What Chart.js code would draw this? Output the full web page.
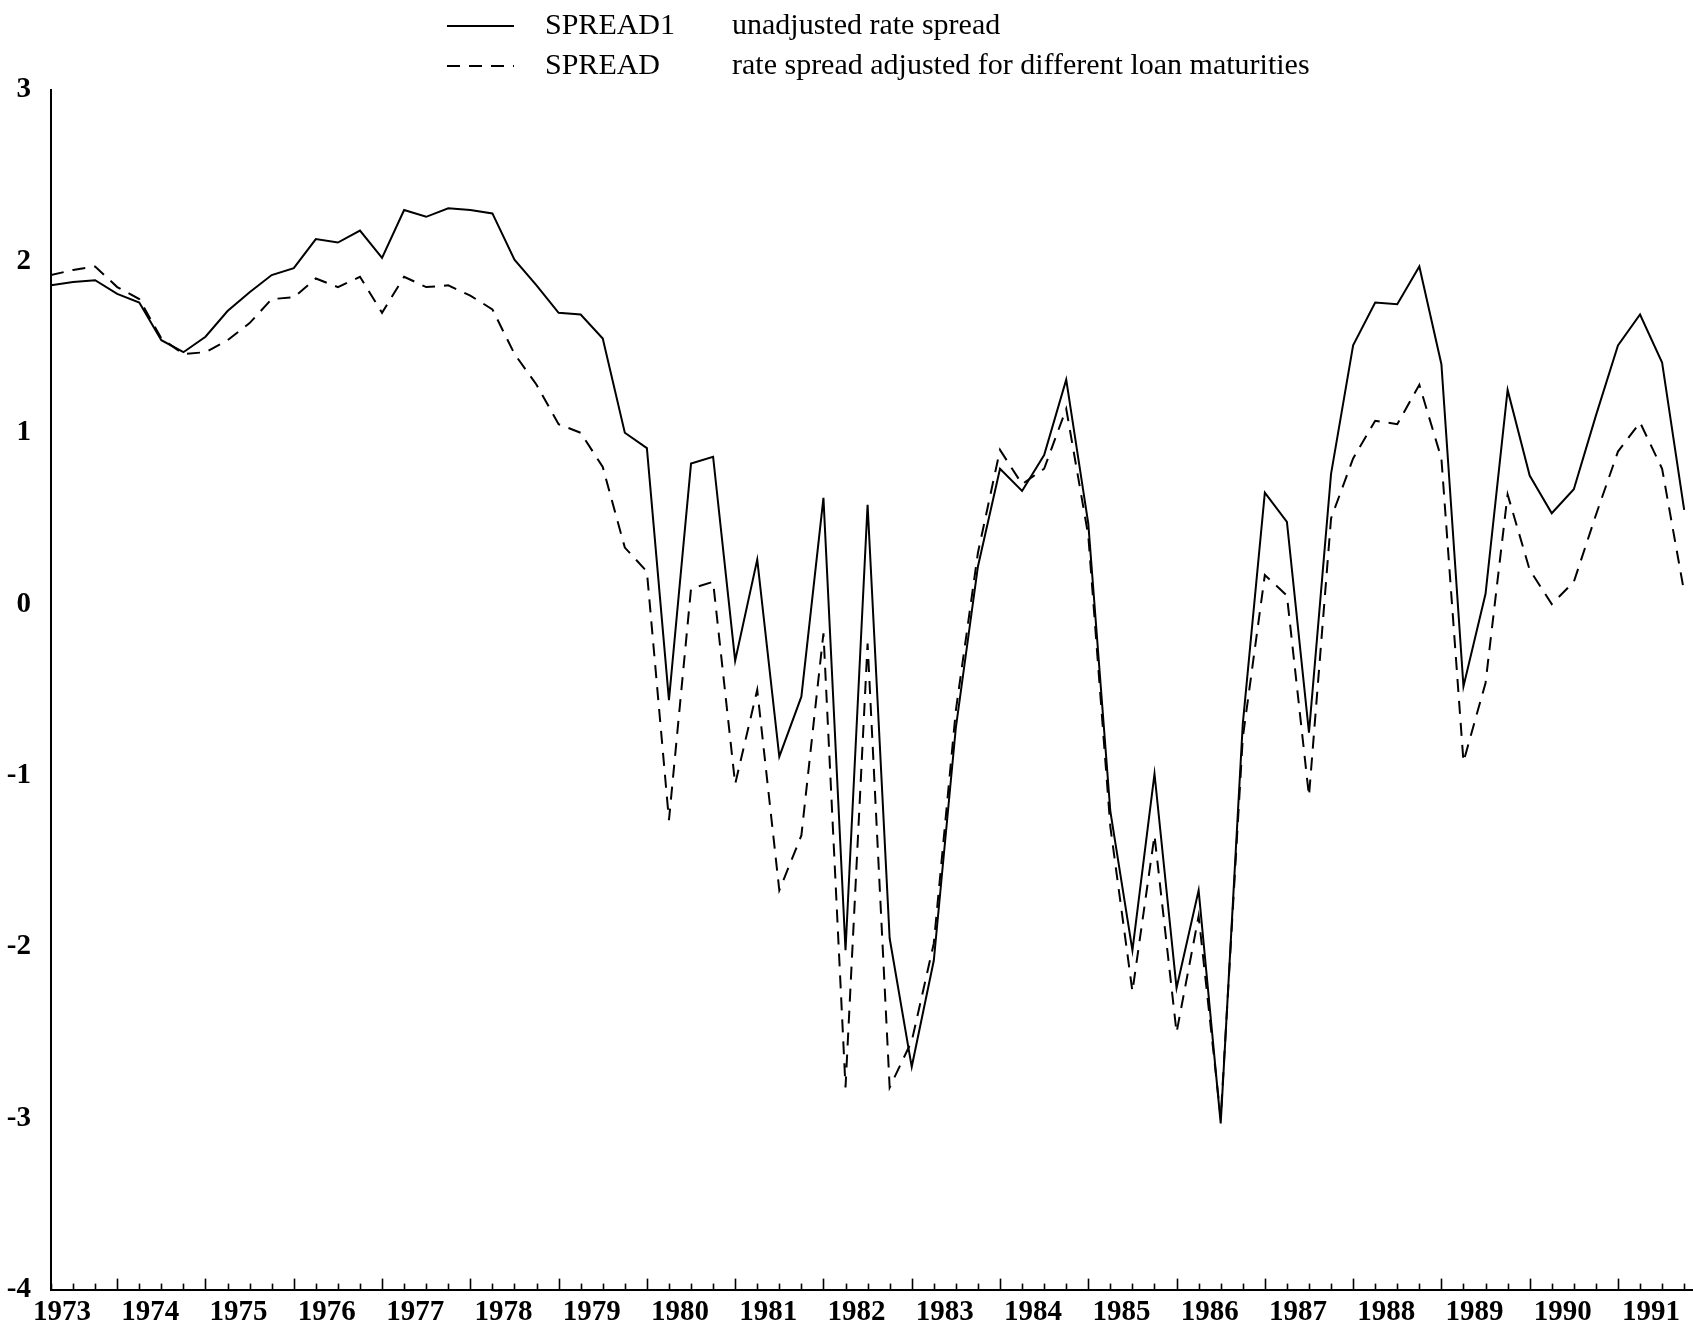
<!DOCTYPE html>
<html>
<head>
<meta charset="utf-8">
<script src="https://cdn.jsdelivr.net/npm/chart.js@4.4.1/dist/chart.umd.min.js"></script>
<style>
    html, body { margin: 0; padding: 0; background: #fff; }
    #wrap { width: 1693px; height: 1327px; }
</style>
</head>
<body>
<div id="wrap"><canvas id="spreadChart" width="1693" height="1327"></canvas></div>
<script>
// quarterly observations, first one is 1973 Q2
const years = [1973, 1974, 1975, 1976, 1977, 1978, 1979, 1980, 1981, 1982,
               1983, 1984, 1985, 1986, 1987, 1988, 1989, 1990, 1991];
const seriesNames = ['SPREAD1', 'SPREAD'];
const seriesNotes = ['unadjusted rate spread', 'rate spread adjusted for different loan maturities'];
const yTicks = [-4, -3, -2, -1, 0, 1, 2, 3];

const spread1 = [
    1.86, 1.88, 1.89, 1.81, 1.76, 1.54, 1.47, 1.56, 1.71, 1.82,
    1.92, 1.96, 2.13, 2.11, 2.18, 2.02, 2.30, 2.26, 2.31, 2.30,
    2.28, 2.01, 1.86, 1.70, 1.69, 1.55, 1.00, 0.91, -0.56, 0.82,
    0.86, -0.33, 0.26, -0.89, -0.54, 0.62, -2.02, 0.58, -1.95, -2.70,
    -2.08, -0.72, 0.22, 0.79, 0.66, 0.87, 1.31, 0.47, -1.21, -2.02,
    -0.99, -2.24, -1.67, -3.03, -0.70, 0.65, 0.48, -0.75, 0.76, 1.51,
    1.76, 1.75, 1.97, 1.40, -0.48, 0.06, 1.25, 0.75, 0.53, 0.67,
    1.10, 1.51, 1.69, 1.41, 0.55
];
const spread = [
    1.92, 1.95, 1.97, 1.85, 1.78, 1.55, 1.46, 1.47, 1.54, 1.64,
    1.78, 1.79, 1.90, 1.85, 1.91, 1.70, 1.91, 1.85, 1.86, 1.80,
    1.72, 1.46, 1.28, 1.05, 1.00, 0.80, 0.33, 0.19, -1.26, 0.09,
    0.13, -1.05, -0.50, -1.67, -1.35, -0.17, -2.82, -0.23, -2.82, -2.55,
    -1.98, -0.62, 0.30, 0.90, 0.70, 0.79, 1.14, 0.40, -1.30, -2.26,
    -1.35, -2.50, -1.82, -3.00, -0.78, 0.17, 0.05, -1.12, 0.50, 0.85,
    1.07, 1.05, 1.28, 0.85, -0.92, -0.46, 0.64, 0.20, 0.00, 0.13,
    0.52, 0.89, 1.06, 0.79, 0.07
];

const serif = '"Liberation Serif", "Times New Roman", serif';

// quarter ticks along the time axis, year boundaries (Q1) drawn longer
const quarterTicks = {
    id: 'quarterTicks',
    afterDraw(chart) {
        const ctx = chart.ctx;
        const xs = chart.scales.x;
        const base = chart.chartArea.bottom;
        ctx.save();
        ctx.strokeStyle = '#000';
        ctx.lineWidth = 1.6;
        for (let i = 0; i < spread1.length; i++) {
            const px = Math.round(xs.getPixelForValue(i)) + 0.5;
            const len = (i % 4 === 3) ? 11 : 6;
            ctx.beginPath();
            ctx.moveTo(px, base);
            ctx.lineTo(px, base - len);
            ctx.stroke();
        }
        ctx.restore();
    }
};

// two-column key at the top
const keyPlugin = {
    id: 'keyPlugin',
    afterDraw(chart) {
        const ctx = chart.ctx;
        const rows = [26, 66];
        ctx.save();
        chart.data.datasets.forEach((ds, i) => {
            const y = rows[i];
            ctx.strokeStyle = '#000';
            ctx.lineWidth = 2;
            ctx.setLineDash(ds.borderDash || []);
            ctx.beginPath();
            ctx.moveTo(447, y);
            ctx.lineTo(514, y);
            ctx.stroke();
            ctx.setLineDash([]);
            ctx.fillStyle = '#000';
            ctx.font = '30px ' + serif;
            ctx.textBaseline = 'middle';
            ctx.fillText(ds.label, 545, y);
            ctx.fillText(seriesNotes[i], 732, y);
        });
        ctx.restore();
    }
};

const ctx = document.getElementById('spreadChart').getContext('2d');
new Chart(ctx, {
    type: 'line',
    data: {
        datasets: [
            { label: seriesNames[0], data: spread1.map((v, i) => ({ x: i, y: v })),
              borderColor: '#000', borderWidth: 2, pointRadius: 0, tension: 0, fill: false },
            { label: seriesNames[1], data: spread.map((v, i) => ({ x: i, y: v })),
              borderColor: '#000', borderWidth: 2, borderDash: [13, 9], pointRadius: 0, tension: 0, fill: false }
        ]
    },
    options: {
        responsive: false,
        animation: false,
        layout: { padding: { top: 90, left: 0, right: 0, bottom: 0 } },
        plugins: { legend: { display: false }, tooltip: { enabled: false } },
        scales: {
            x: {
                type: 'linear', min: 0, max: 74.4,
                afterFit(s) { s.height = 35; },
                afterBuildTicks(s) { s.ticks = years.map((yr, k) => ({ value: 0.5 + 4 * k })); },
                ticks: {
                    autoSkip: false, maxRotation: 0, padding: 6, color: '#000',
                    font: { family: serif, size: 29, weight: 'bold' },
                    callback: (v, idx) => String(years[idx])
                },
                grid: { display: false, drawTicks: false },
                border: { display: true, color: '#000', width: 2 }
            },
            y: {
                min: -4, max: 3,
                afterFit(s) { s.width = 51; },
                afterBuildTicks(s) { s.ticks = yTicks.map(v => ({ value: v })); },
                ticks: {
                    padding: 20, color: '#000',
                    font: { family: serif, size: 29, weight: 'bold' },
                    callback: v => String(v)
                },
                grid: { display: false, drawTicks: false },
                border: { display: true, color: '#000', width: 2 }
            }
        }
    },
    plugins: [quarterTicks, keyPlugin]
});
</script>
</body>
</html>
